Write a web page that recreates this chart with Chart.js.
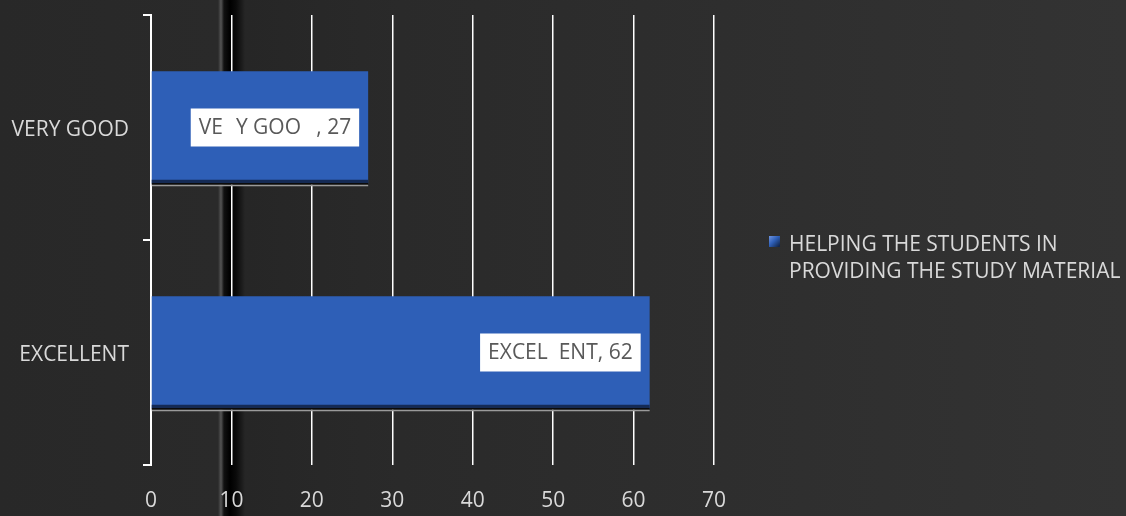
<!DOCTYPE html>
<html>
<head>
<meta charset="utf-8">
<script src="https://cdn.jsdelivr.net/npm/chart.js@4/dist/chart.umd.min.js"></script>
<style>
  html, body { margin: 0; padding: 0; }
  body {
    width: 1126px; height: 516px; overflow: hidden;
    background: linear-gradient(90deg, #282828 0px, #2a2a2a 218px, #555 221px, #111 224px, #000 230px, #0a0a0a 236px, #262626 245px, #2a2a2a 400px, #333 1126px);
  }
  #wrap { position: relative; width: 1126px; height: 516px; }
</style>
</head>
<body>
<div id="wrap"><canvas id="chart" width="1126" height="516"></canvas></div>
<script>
const categories = ['VERY GOOD', 'EXCELLENT'];
const values = [27, 62];
const seriesName = 'HELPING THE STUDENTS IN PROVIDING THE STUDY MATERIAL';
const legendLines = ['HELPING THE STUDENTS IN', 'PROVIDING THE STUDY MATERIAL'];
const xTicks = [0, 10, 20, 30, 40, 50, 60, 70];

const FONT = '"Open Sans", sans-serif';
const FSIZE = 21;
const BAR = '#2e5fb7';

// labels inside the bars (gridlines knock out the letters they cross, as in the source)
const dataLabels = {
  id: 'dataLabels',
  afterDatasetsDraw(chart) {
    const ctx = chart.ctx;
    const meta = chart.getDatasetMeta(0);
    const xs = chart.scales.x;
    const gridPx = xTicks.map(t => xs.getPixelForValue(t));
    ctx.save();
    meta.data.forEach((bar, i) => {
      // bar shadow at the bottom
      const p = bar.getProps(['x', 'y', 'base', 'height'], true);
      const bottom = p.y + p.height / 2;
      ctx.fillStyle = '#142a55';
      ctx.fillRect(p.base, bottom - 4, p.x - p.base, 3);
      ctx.fillStyle = '#0b0b0b';
      ctx.fillRect(p.base, bottom - 1, p.x - p.base, 2);
      ctx.fillStyle = '#9a9a9a';
      ctx.fillRect(p.base, bottom + 1, p.x - p.base, 1.5);

      const text = categories[i] + ', ' + values[i];
      ctx.font = FSIZE + 'px ' + FONT;
      const w = ctx.measureText(text).width;
      const padX = 8;
      const right = p.x - 9;
      const left = right - w - padX * 2;
      ctx.fillStyle = '#ffffff';
      ctx.fillRect(left, p.y - 19, right - left, 38);
      ctx.fillStyle = '#595959';
      ctx.textBaseline = 'middle';
      ctx.textAlign = 'left';
      const x0 = left + padX;
      for (let k = 0; k < text.length; k++) {
        const a = x0 + ctx.measureText(text.slice(0, k)).width;
        const b = x0 + ctx.measureText(text.slice(0, k + 1)).width;
        const hit = gridPx.some(g => g > a && g < b);
        if (!hit) ctx.fillText(text[k], a, p.y + 1);
      }
    });
    ctx.restore();
  }
};

// legend on the right, wrapped over two lines
const sideLegend = {
  id: 'sideLegend',
  afterDraw(chart) {
    const ctx = chart.ctx;
    ctx.save();
    const g = ctx.createLinearGradient(769, 236, 779, 246);
    g.addColorStop(0, '#6f95e0');
    g.addColorStop(0.5, BAR);
    g.addColorStop(1, '#13284f');
    ctx.fillStyle = g;
    ctx.fillRect(769, 236, 11, 11);
    ctx.font = FSIZE + 'px ' + FONT;
    ctx.fillStyle = '#d9d9d9';
    ctx.textBaseline = 'middle';
    legendLines.forEach((l, i) => ctx.fillText(l, 789, 245 + i * 27));
    ctx.restore();
  }
};

new Chart(document.getElementById('chart'), {
  type: 'bar',
  data: {
    labels: categories,
    datasets: [{
      label: seriesName,
      data: values,
      backgroundColor: BAR,
      borderWidth: 0,
      categoryPercentage: 1,
      barPercentage: 0.5
    }]
  },
  options: {
    indexAxis: 'y',
    responsive: false,
    animation: false,
    devicePixelRatio: 1,
    layout: { padding: { top: 15, right: 412, left: 0, bottom: 0 } },
    plugins: {
      legend: { display: false },
      tooltip: { enabled: false }
    },
    scales: {
      x: {
        min: 0, max: 70,
        afterFit(s) { s.height = 51; s.paddingLeft = 0; s.paddingRight = 0; },
        border: { display: false },
        grid: { color: '#ffffff', lineWidth: 1.5, drawTicks: false },
        ticks: { stepSize: 10, padding: 23, color: '#d9d9d9', font: { family: FONT, size: FSIZE } }
      },
      y: {
        afterFit(s) { s.width = 151; s.paddingTop = 0; s.paddingBottom = 0; },
        border: { display: true, color: '#ffffff', width: 2 },
        grid: { drawOnChartArea: false, color: '#ffffff', lineWidth: 2, tickLength: 8, offset: true },
        ticks: { padding: 14, labelOffset: 3, color: '#d9d9d9', font: { family: FONT, size: FSIZE } }
      }
    }
  },
  plugins: [dataLabels, sideLegend]
});
</script>
</body>
</html>
